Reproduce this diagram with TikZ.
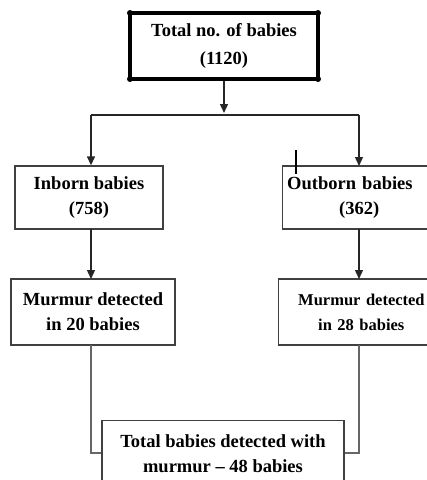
\documentclass[tikz,border=0pt]{standalone}
\usepackage{fontspec}
\setmainfont{Liberation Serif}
\usetikzlibrary{arrows.meta}
\begin{document}
\begin{tikzpicture}[x=1pt,y=-1pt,
  box/.style={draw=black!75,line width=1.4pt,fill=white,inner sep=0pt,font=\bfseries\fontsize{18.5}{25}\selectfont,align=center},
  conn/.style={draw=black!85,line width=1.4pt},
  arr/.style={conn,-{Triangle[length=9pt,width=8pt]}},
  line/.style={draw=black!60,line width=1.2pt}]
\useasboundingbox (0,0) rectangle (427,480);
\clip (0,0) rectangle (427,480);
% top box
\node[box,draw=black,line width=3.5pt,minimum width=188pt,minimum height=66pt,font=\bfseries\fontsize{18.5}{28}\selectfont] (top) at (224,46) {Total no. of babies\\(1120)};
\foreach \p in {(130,13),(318,13),(130,79),(318,79)} \fill \p circle (3pt);
% second row
\node[box,minimum width=148pt,minimum height=63pt] (in) at (89,197.5) {Inborn babies\\(758)};
\node[box,minimum width=152pt,minimum height=63pt,text width=145pt,align=left,anchor=west] (out) at (282,197.5) {\hspace*{1pt}Outborn babies\\\hspace*{53pt}(362)};
% third row
\node[box,minimum width=164pt,minimum height=66pt] (m1) at (93,312) {Murmur detected\\in 20 babies};
\node[box,minimum width=152pt,minimum height=66pt,text width=145pt,align=left,anchor=west,font=\bfseries\fontsize{16.5}{25}\selectfont] (m2) at (278,312) {\hspace*{16pt}Murmur detected\\\hspace*{36pt}in 28 babies};
% bottom box
\node[box,minimum width=242pt,minimum height=66pt,anchor=north] (tot) at (223,420) {Total babies detected with\\murmur -- 48 babies};
% connectors
\draw[arr] (top.south) -- (224,113);
\draw[conn] (91,115) -- (359,115);
\draw[arr] (91,115) -- (in.north -| 91,0);
\draw[arr] (359,115) -- (359,166);
\draw[arr] (91,229) -- (91,279);
\draw[arr] (359,229) -- (359,279);
\draw[line] (91,345) |- (tot.west |- 0,453);
\draw[line] (359,345) |- (tot.east |- 0,453);
% stray mark
\draw[black,line width=1.5pt] (296,150) -- (296,174);
\end{tikzpicture}
\end{document}
